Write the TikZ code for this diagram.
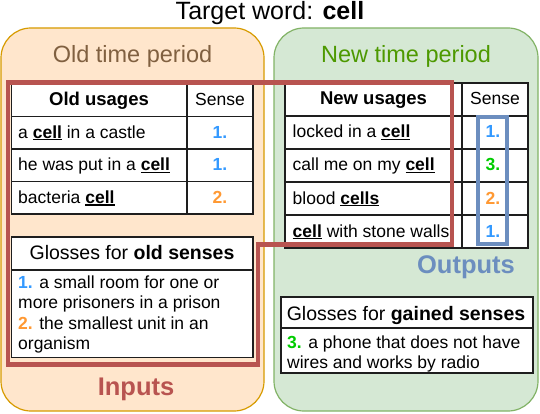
\documentclass[tikz,border=0pt]{standalone}
\usepackage{fontspec}
\setmainfont{Liberation Sans}
\usetikzlibrary{positioning}
\definecolor{oldfill}{RGB}{255,230,204}
\definecolor{oldline}{RGB}{215,155,0}
\definecolor{oldtext}{RGB}{128,96,64}
\definecolor{newfill}{RGB}{213,232,212}
\definecolor{newline}{RGB}{130,179,102}
\definecolor{newtext}{RGB}{77,153,0}
\definecolor{inred}{RGB}{184,84,80}
\definecolor{outblue}{RGB}{108,142,191}
\definecolor{senseA}{RGB}{51,153,255}
\definecolor{senseB}{RGB}{255,153,51}
\definecolor{senseC}{RGB}{0,204,0}
\definecolor{tabline}{RGB}{30,30,30}
\newsavebox\kwbox
\newcommand{\kw}[1]{\sbox\kwbox{\bfseries #1}\rlap{\rule[-2pt]{\wd\kwbox}{1.4pt}}\usebox\kwbox}
\newcommand{\sn}[2]{\textcolor{#1}{\bfseries #2}}
\tikzset{
  period/.style={line width=1.2pt, rounded corners=30pt},
  gridline/.style={draw=tabline, line width=1.2pt, fill=white},
  txt/.style={inner sep=0pt, font=\fontsize{17.5}{21}\selectfont},
  usage/.style={txt, anchor=base west},
  sense/.style={txt, anchor=base, font=\fontsize{17.5}{21}\selectfont\bfseries},
  head/.style={txt, anchor=base},
  big/.style={inner sep=0pt, anchor=base, font=\fontsize{23.5}{28}\selectfont},
  tag/.style={inner sep=0pt, anchor=base, font=\fontsize{25.5}{30}\selectfont\bfseries},
}
\begin{document}
\begin{tikzpicture}[x=1pt, y=-1pt]
  \useasboundingbox (0,0) rectangle (540,414);
  % the two periods
  \draw[period, fill=oldfill, draw=oldline] (1,28) rectangle (264,411);
  \draw[period, fill=newfill, draw=newline] (274,28) rectangle (538,411);
  \node[big, font=\fontsize{25}{30}\selectfont] (title) at (270,19.5) {Target word: \textbf{cell}};
  \node[big, text=oldtext] (oldlab) at (132.5,63) {Old time period};
  \node[big, text=newtext] (newlab) at (406,63) {New time period};

  % old usages table
  \draw[gridline] (11.5,84) rectangle (253,214);
  \foreach \y in {116.5,149,181.5} \draw[gridline] (11.5,\y) -- (253,\y);
  \draw[gridline] (187,84) -- (187,214);
  \node[head, font=\fontsize{18.5}{22}\selectfont\bfseries] (oldhead) at (99,105.5) {Old usages};
  \node[head] (oldsense) at (220,105.5) {Sense};
  \foreach \t/\s/\c [count=\i] in {a \kw{cell} in a castle/1./senseA,
      he was put in a \kw{cell}/1./senseA, bacteria \kw{cell}/2./senseB} {
    \node[usage] (old\i) at (18,{106+32.5*\i}) {\t};
    \node[sense, text=\c] (olds\i) at (220,{106+32.5*\i}) {\s};
  }

  % new usages table
  \draw[gridline] (285,83) rectangle (528,248);
  \foreach \y in {116,149,182,215} \draw[gridline] (285,\y) -- (528,\y);
  \draw[gridline] (462,83) -- (462,248);
  \node[head, font=\fontsize{18.5}{22}\selectfont\bfseries] (newhead) at (373.5,105) {New usages};
  \node[head] (newsense) at (495,105) {Sense};
  \foreach \t/\s/\c [count=\i] in {locked in a \kw{cell}/1./senseA,
      call me on my \kw{cell}/3./senseC, blood \kw{cells}/2./senseB,
      \kw{cell} with stone walls/1./senseA} {
    \node[usage] (new\i) at (292.5,{105+33*\i}) {\t};
    \node[sense, text=\c] (news\i) at (493,{105+33*\i}) {\s};
  }

  % glosses
  \draw[gridline] (11.5,237) rectangle (253,357.5);
  \draw[gridline] (11.5,270) -- (253,270);
  \node[head, font=\fontsize{19.5}{23}\selectfont] (oldgl) at (132,259.5) {Glosses for \textbf{old senses}};
  \node[usage] (og1) at (18,288.3) {\sn{senseA}{1.} a small room for one or};
  \node[usage] (og2) at (18,308.8) {more prisoners in a prison};
  \node[usage] (og3) at (18,329.3) {\sn{senseB}{2.} the smallest unit in an};
  \node[usage] (og4) at (18,349.8) {organism};

  \draw[gridline] (281,297) rectangle (533,373);
  \draw[gridline] (281,328) -- (533,328);
  \node[head, font=\fontsize{19.5}{23}\selectfont] (newgl) at (406,320) {Glosses for \textbf{gained senses}};
  \node[usage] (ng1) at (287,348) {\sn{senseC}{3.} a phone that does not have};
  \node[usage] (ng2) at (287,368.5) {wires and works by radio};

  % inputs and outputs
  \draw[draw=inred, line width=4.5pt] (8,82.7) -- (452,82.7) -- (452,244.5)
    -- (258,244.5) -- (258,364.5) -- (8,364.5) -- cycle;
  \draw[draw=outblue, line width=4pt] (478,117) rectangle (507,244);
  \node[tag, text=inred] (inputs) at (136,395) {Inputs};
  \node[tag, text=outblue] (outputs) at (466,273) {Outputs};
\end{tikzpicture}
\end{document}
